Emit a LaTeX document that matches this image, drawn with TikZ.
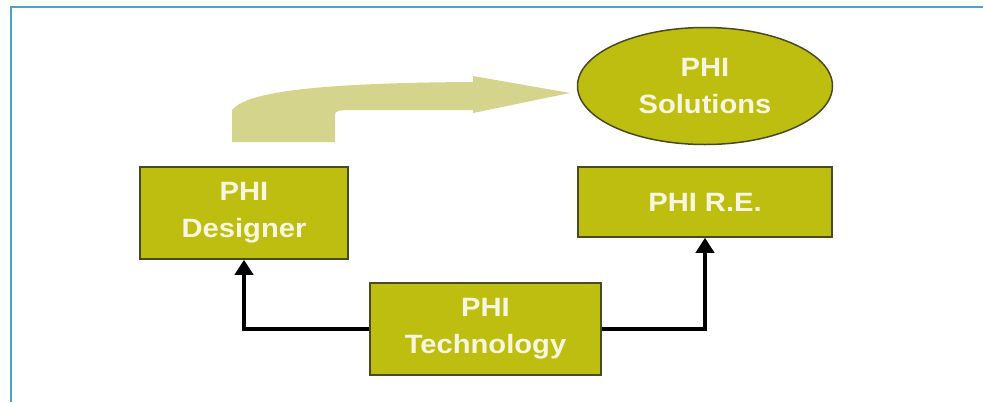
\documentclass[tikz,border=0pt]{standalone}
\usepackage{fontspec}
\newfontfamily\labfont[FakeStretch=1.1]{Liberation Sans}
\usetikzlibrary{shapes.geometric,arrows.meta}
\definecolor{olivefill}{HTML}{BDBE10}
\definecolor{oliveedge}{HTML}{4A4A22}
\definecolor{labtext}{HTML}{F8F6E0}
\definecolor{bigarrow}{HTML}{D4D48C}
\definecolor{frameblue}{HTML}{4AA3C4}
\tikzset{
  box/.style={rectangle, fill=olivefill, draw=oliveedge, line width=1.5pt,
    text=labtext, align=center, inner sep=0pt,
    font=\labfont\bfseries\fontsize{26.5}{37}\selectfont},
  oval/.style={box, ellipse},
  conn/.style={draw=black, line width=4pt,
    -{Triangle[width=18pt,length=15pt]}},
}
\begin{document}
\begin{tikzpicture}[x=1pt,y=-1pt]
\useasboundingbox (0,0) rectangle (983,402);
\fill[white] (0,0) rectangle (983,402);
% frame
\draw[frameblue, line width=2.5pt] (11,402) -- (11,7) -- (983,7);
% big curved arrow
\fill[bigarrow] (232,142) -- (232,110)
  .. controls (245,94) and (300,83) .. (473,82)
  -- (473,76) -- (570,93) -- (473,113) -- (473,110)
  -- (350,110) .. controls (340,110) and (335,111) .. (335,114)
  -- (335,142) -- cycle;
% nodes
\node[box, minimum width=208pt, minimum height=92pt] (des) at (244,213) {PHI\\Designer};
\node[box, minimum width=231pt, minimum height=92pt] (tech) at (485.5,329) {PHI\\Technology};
\node[box, minimum width=254pt, minimum height=70pt] (re) at (705,202) {PHI R.E.};
\node[oval, minimum width=255pt, minimum height=117pt] (sol) at (705,86) {PHI\\Solutions};
% connectors
\draw[conn] (tech.west) -| (des.south);
\draw[conn] (tech.east) -| (re.south);
\end{tikzpicture}
\end{document}
